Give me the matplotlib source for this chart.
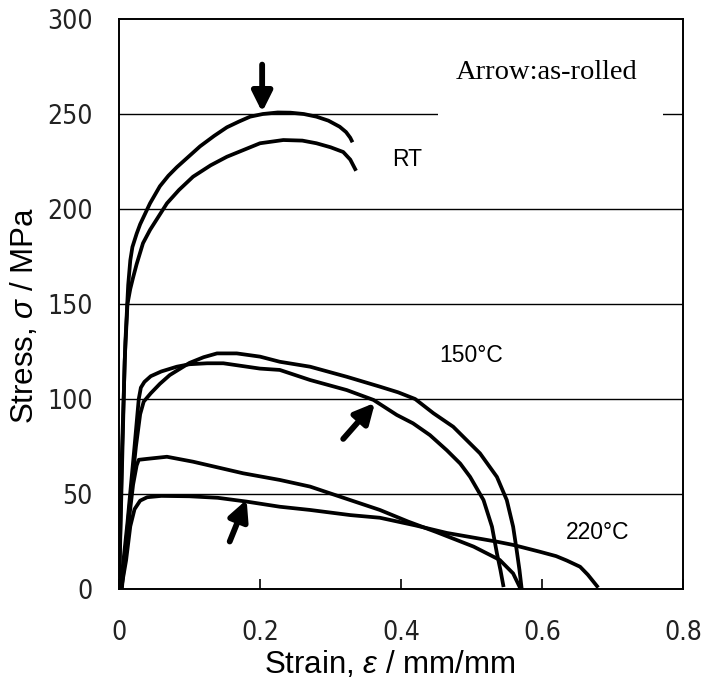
import matplotlib
matplotlib.use('Agg')
import matplotlib.pyplot as plt
from matplotlib.patches import Rectangle

# Tensile curves (strain in mm/mm, stress in MPa)
rt_rolled_strain = [0.0, 0.004, 0.009, 0.013, 0.016, 0.019, 0.025, 0.03, 0.044, 0.058, 0.07,
                    0.082, 0.1, 0.115, 0.135, 0.153, 0.17, 0.186, 0.204, 0.225, 0.243, 0.262,
                    0.28, 0.297, 0.313, 0.322, 0.328, 0.330]
rt_rolled_stress = [0, 70, 130, 160, 173, 180, 187, 192, 203, 212, 217.5,
                    222, 228, 233, 238.5, 243, 246, 248.6, 250, 250.8, 250.7, 250,
                    248.6, 246.5, 243.3, 240.5, 237.5, 236]

rt_other_strain = [0.0, 0.004, 0.008, 0.012, 0.016, 0.02, 0.025, 0.034, 0.044, 0.068, 0.085,
                   0.105, 0.13, 0.153, 0.2, 0.233, 0.26, 0.28, 0.3, 0.318, 0.328, 0.335]
rt_other_stress = [0, 60, 120, 150, 158, 164, 171, 182, 189, 203, 210,
                   217, 223, 227.5, 234.6, 236.3, 236, 234.6, 232.5, 230, 226, 221]

t150_rolled_strain = [0.002, 0.012, 0.022, 0.028, 0.031, 0.036, 0.045, 0.06, 0.082, 0.1, 0.125,
                      0.148, 0.2, 0.228, 0.271, 0.323, 0.361, 0.394, 0.417, 0.441, 0.465,
                      0.484, 0.498, 0.517, 0.529, 0.536, 0.541, 0.545]
t150_rolled_stress = [0, 35, 75, 100, 106, 109, 112, 114.5, 117, 118.3, 118.8,
                      118.8, 116, 115.3, 110, 104.7, 99.5, 91.6, 87.2, 81, 73,
                      66, 59, 46.8, 32.8, 18.8, 10, 2]

t150_other_strain = [0.004, 0.014, 0.024, 0.03, 0.035, 0.045, 0.058, 0.072, 0.1, 0.12, 0.139,
                     0.167, 0.2, 0.228, 0.271, 0.323, 0.37, 0.396, 0.42, 0.446, 0.474,
                     0.493, 0.512, 0.536, 0.55, 0.559, 0.564, 0.568, 0.571]
t150_other_stress = [0, 40, 75, 92, 98.6, 103, 108, 112.6, 119, 122, 124,
                     124, 122.3, 119.6, 117, 111.7, 106.5, 103.5, 100, 92.5, 85.4,
                     78.4, 71.4, 59, 46.8, 32.8, 20.5, 10, 0.5]

t220_other_strain = [0.003, 0.012, 0.02, 0.025, 0.028, 0.04, 0.068, 0.105, 0.176, 0.228, 0.271,
                     0.299, 0.37, 0.41, 0.45, 0.503, 0.54, 0.559, 0.569]
t220_other_stress = [0, 30, 55, 65, 68, 68.5, 69.6, 67, 60.9, 57.4, 53.9,
                     50.4, 41.6, 35.5, 30, 22.3, 15.3, 8.2, 0.5]

t220_rolled_strain = [0.003, 0.01, 0.016, 0.022, 0.03, 0.04, 0.06, 0.1, 0.14, 0.181, 0.228,
                      0.271, 0.328, 0.37, 0.42, 0.465, 0.536, 0.559, 0.597, 0.62, 0.635,
                      0.654, 0.665, 0.678]
t220_rolled_stress = [0, 15, 33, 42, 46.5, 48.3, 49, 48.8, 48, 46, 43.3,
                      41.6, 38.9, 37.5, 33.5, 29.5, 24.9, 23.2, 19.6, 17.3, 15,
                      11.7, 7.5, 1.5]

curves = [
    (rt_rolled_strain, rt_rolled_stress),
    (rt_other_strain, rt_other_stress),
    (t150_rolled_strain, t150_rolled_stress),
    (t150_other_strain, t150_other_stress),
    (t220_other_strain, t220_other_stress),
    (t220_rolled_strain, t220_rolled_stress),
]

# arrows marking the as-rolled curves: (tail, tip)
arrows = [
    ((0.203, 276), (0.203, 251)),
    ((0.318, 79), (0.363, 98)),
    ((0.157, 25), (0.181, 47)),
]

x_ticks = [0, 0.2, 0.4, 0.6, 0.8]
x_tick_labels = ['0', '0.2', '0.4', '0.6', '0.8']
y_ticks = [0, 50, 100, 150, 200, 250, 300]
y_tick_labels = ['0', '50', '100', '150', '200', '250', '300']

plt.rcParams['mathtext.fontset'] = 'custom'
plt.rcParams['mathtext.rm'] = 'Liberation Sans'
plt.rcParams['mathtext.it'] = 'Liberation Sans:italic'

fig = plt.figure(figsize=(7.03, 6.86), dpi=100)
ax = fig.add_axes([0.1693, 0.1414, 0.8023, 0.8309])

for v in y_ticks[1:-1]:
    ax.axhline(v, color='black', lw=1.0, zorder=1)

# text box for the note hides part of the 250 gridline
ax.add_patch(Rectangle((0.452, 238), 0.32, 50, facecolor='white', edgecolor='none', zorder=1.5))

for sx, sy in curves:
    ax.plot(sx, sy, color='black', lw=2.7, zorder=3, solid_joinstyle='round')

for tail, tip in arrows:
    ax.annotate('', xy=tip, xytext=tail,
                arrowprops=dict(arrowstyle='-|>,head_length=0.6,head_width=0.3',
                                lw=4.2, color='black', shrinkA=0, shrinkB=0,
                                mutation_scale=20),
                zorder=4)

ax.text(0.607, 272, 'Arrow:as-rolled', family='Liberation Serif', fontsize=20.5,
        ha='center', va='center', zorder=5)
ax.text(0.408, 226, 'RT', family='Liberation Sans', fontsize=16.5, ha='center', va='center')
ax.text(0.499, 123, '150°C', family='Liberation Sans', fontsize=16.5, ha='center', va='center')
ax.text(0.679, 29.5, '220°C', family='Liberation Sans', fontsize=16.5, ha='center', va='center')

tick_font = dict(family='DejaVu Sans', stretch='condensed', fontsize=19, color='#222222')
ax.set_xlim(0, 0.8)
ax.set_ylim(0, 300)
ax.set_xticks(x_ticks)
ax.set_xticklabels(x_tick_labels, **tick_font)
ax.set_yticks(y_ticks)
ax.set_yticklabels(y_tick_labels, **tick_font)
ax.tick_params(axis='x', direction='in', length=7, width=1.2, pad=22)
ax.tick_params(axis='y', length=0, pad=19)
for s in ax.spines.values():
    s.set_linewidth(1.4)

ax.set_xlabel(r'Strain, $\mathit{\varepsilon}$ / mm/mm', family='Liberation Sans', fontsize=22.5)
ax.set_ylabel(r'Stress, $\mathit{\sigma}$ / MPa', family='Liberation Sans', fontsize=22.5)
ax.xaxis.set_label_coords(0.48, -0.105)
ax.yaxis.set_label_coords(-0.14, 0.48)

fig.savefig('out.png', dpi=100)
